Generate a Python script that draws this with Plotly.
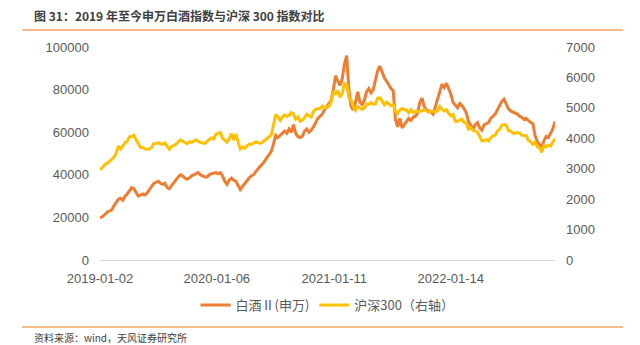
import pandas as pd
import plotly.graph_objects as go

# ---- data (weekly samples) ----
baijiu = [
    # 2019
    19800, 20500, 21500, 22500,
    23000, 23500, 25500, 27000,
    28500, 29000, 28000, 30000, 31000,
    32500, 34000, 33500, 31500,
    30000, 30500, 31000, 30500, 31500,
    33000, 34500, 36000, 36500,
    37000, 36000, 35500, 36000,
    34000, 33500, 35000, 36000, 37500,
    39000, 40000, 39500, 38500,
    38000, 38500, 39500, 40000,
    40500, 41000, 40000, 39500, 39000,
    39000, 40000, 40500, 40800,
    # 2020
    41000, 40500, 41000, 39500, 37000,
    35500, 37500, 38500, 37500,
    37000, 35000, 33000, 34500,
    36000, 37000, 38500, 39500,
    40000, 41500, 43000, 44000, 45000,
    46500, 47500, 49000, 51000,
    54500, 58500, 57500, 58500, 59500,
    60500, 59500, 61500, 60000,
    63500, 59500, 58000, 57500,
    58000, 60500, 61500, 60000, 61000,
    62500, 64500, 66500, 67500,
    68500, 70500, 72000, 73500,
    # 2021
    75000, 80000, 86500, 84000, 82000,
    85000, 92000, 96000, 80000,
    72000, 70500, 74000, 79000,
    74000, 73000, 75000, 79000, 80500,
    78500, 80000, 85000, 89000,
    91000, 88000, 85500, 84000,
    82000, 80500, 79500, 66000, 62500,
    66500, 62000, 63500, 64500,
    66500, 65500, 67000, 67500,
    69000, 74000, 76000, 72000, 70500,
    70000, 69500, 68500, 72000,
    75000, 79000, 82500, 81000, 83000,
    # 2022
    80500, 78000, 74000, 72500,
    71500, 73500, 72500, 71000,
    69000, 65000, 63000, 61500,
    63500, 64500, 62000, 61000, 63500,
    64000, 64500, 66500, 67500,
    68500, 70500, 72500, 74500,
    75500, 73000, 71000, 70000, 69500,
    69000, 68500, 67500, 67000,
    66000, 66500, 65500, 64500, 64000,
    58500, 55500, 54000, 53000,
    56000, 58000, 57500, 59500,
    61500, 65000,
]

hs300 = [
    # 2019
    2970, 3050, 3150, 3180,
    3250, 3300, 3380, 3500,
    3750, 3650, 3750, 3850, 3900,
    4050, 4050, 4100, 3950,
    3800, 3700, 3700, 3650, 3630,
    3650, 3700, 3820, 3830,
    3850, 3820, 3800, 3850,
    3750, 3640, 3720, 3760, 3800,
    3880, 3950, 3900, 3850,
    3820, 3880, 3870, 3900,
    3950, 3900, 3860, 3850, 3830,
    3900, 3970, 4020, 3980,
    # 2020
    4130, 4170, 4190, 4000, 3950,
    3870, 3990, 4150, 3940,
    4140, 3880, 3650, 3720,
    3670, 3750, 3800, 3800,
    3840, 3880, 3860, 3830, 3870,
    3940, 3990, 4050, 4110,
    4400, 4780, 4700, 4590, 4700,
    4760, 4720, 4750, 4840,
    4800, 4630, 4700, 4560,
    4590, 4680, 4790, 4740, 4700,
    4880, 4950, 4970, 4980,
    5060, 4990, 5040, 5050,
    # 2021
    5210, 5500, 5460, 5570, 5350,
    5480, 5800, 5770, 5340,
    5260, 5050, 4920, 5040,
    5000, 4950, 4990, 5130, 5120,
    5170, 5120, 5130, 5320,
    5330, 5220, 5100, 5190,
    5120, 5070, 5100, 4890, 4810,
    4930, 4980, 4940, 4930,
    4840, 4940, 4850, 4880,
    4870, 4900, 4900, 4940, 4910,
    4860, 4890, 4900, 4860,
    4900, 5050, 4950, 4900, 4940,
    # 2022
    4820, 4740, 4780, 4560,
    4560, 4600, 4630, 4520,
    4500, 4300, 4350, 4250,
    4240, 4200, 4050, 3920, 3920,
    3960, 3910, 4020, 4080,
    4100, 4240, 4290, 4430,
    4460, 4430, 4250, 4240, 4170,
    4160, 4190, 4180, 4100,
    4090, 4090, 3930, 3890, 3800,
    3870, 3720, 3690, 3540,
    3760, 3720, 3770, 3750,
    3880, 3990,
]

tick_dates = ["2019-01-02", "2020-01-06", "2021-01-11", "2022-01-14"]
tick_labels = ["2019-01-02", "2020-01-06", "2021-01-11", "2022-01-14"]

dates_bj = pd.date_range("2019-01-04", periods=len(baijiu), freq="W-FRI")
dates_hs = pd.date_range("2019-01-04", periods=len(hs300), freq="W-FRI")
# first point is the first trading day of 2019
dates_bj = [pd.Timestamp("2019-01-02")] + list(dates_bj[1:])
dates_hs = [pd.Timestamp("2019-01-02")] + list(dates_hs[1:])

ORANGE = "#ED7D31"
YELLOW = "#FFC000"
GRAY = "#595959"
FONT = "Liberation Sans, Noto Sans CJK SC, sans-serif"
CJK = "Noto Sans CJK SC, sans-serif"

fig = go.Figure()
fig.add_trace(go.Scatter(x=dates_bj, y=baijiu, mode="lines", name="白酒Ⅱ(申万)",
                         line=dict(color=ORANGE, width=3), yaxis="y"))
fig.add_trace(go.Scatter(x=dates_hs, y=hs300, mode="lines", name="沪深300（右轴）",
                         line=dict(color=YELLOW, width=3), yaxis="y2"))

# plot area pixel geometry: x 100..555, y 47..260
L, R, T, B = 100, 555, 47, 260
def px(x):
    return (x - L) / (R - L)
def py(y):
    return (B - y) / (B - T)

fig.update_layout(
    width=640, height=345, autosize=False,
    margin=dict(l=L, r=640 - R, t=T, b=345 - B, pad=0),
    paper_bgcolor="white", plot_bgcolor="white",
    font=dict(family=FONT, size=13, color=GRAY),
    showlegend=True,
    legend=dict(orientation="h", x=0.5, xanchor="center", y=py(305), yanchor="middle",
                font=dict(family=CJK, size=13, color=GRAY), itemwidth=30,
                bgcolor="rgba(0,0,0,0)", traceorder="normal"),
    xaxis=dict(type="date", range=["2019-01-02", dates_bj[-1]],
               tickmode="array", tickvals=tick_dates, ticktext=tick_labels,
               showgrid=False, zeroline=False, showline=True, linecolor="#D9D9D9",
               linewidth=1, ticks="", tickfont=dict(size=13, color=GRAY),
               ticklabelstandoff=6),
    yaxis=dict(range=[0, 100000], dtick=20000, tickformat="d", showgrid=False,
               zeroline=False, showline=False, ticks="", tickfont=dict(size=13, color=GRAY),
               ticklabelstandoff=10),
    yaxis2=dict(range=[0, 7000], dtick=1000, tickformat="d", overlaying="y", side="right",
                showgrid=False, zeroline=False, showline=False, ticks="",
                tickfont=dict(size=13, color=GRAY), ticklabelstandoff=10),
)

# title, rules and source note
fig.add_annotation(x=px(32), y=py(15), xref="paper", yref="paper", xanchor="left", yanchor="middle",
                   text="<b>图 31：2019 年至今申万白酒指数与沪深 300 指数对比</b>", showarrow=False,
                   font=dict(family=CJK, size=12, color="#404040"))
fig.add_shape(type="line", xref="paper", yref="paper", x0=px(22), x1=px(623), y0=py(30), y1=py(30),
              line=dict(color="#F4A460", width=1.5))
fig.add_shape(type="line", xref="paper", yref="paper", x0=px(22), x1=px(623), y0=py(327), y1=py(327),
              line=dict(color="#F4A460", width=1.5))
fig.add_annotation(x=px(32), y=py(337), xref="paper", yref="paper", xanchor="left", yanchor="middle",
                   text="资料来源：wind，天风证券研究所", showarrow=False,
                   font=dict(family=CJK, size=10, color="#404040"))

fig.write_html("out.html")
